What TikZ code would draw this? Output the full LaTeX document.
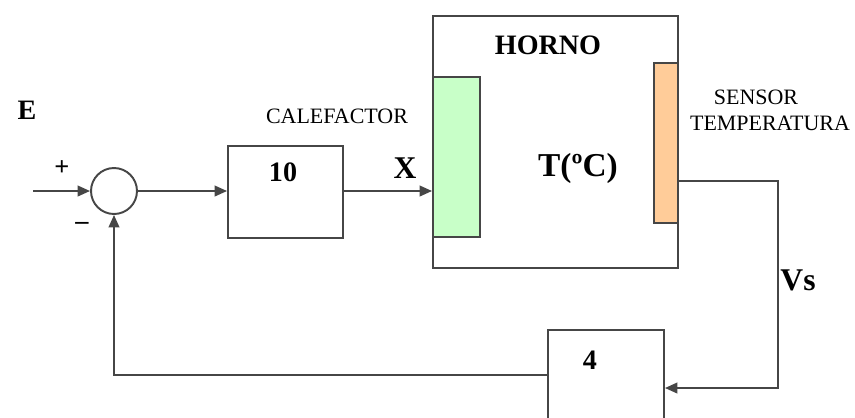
\documentclass[tikz,border=0pt]{standalone}
\usepackage{fontspec}
\setmainfont{Liberation Serif}
\usepackage{tikz}
\usetikzlibrary{arrows.meta, positioning, calc}
\definecolor{figline}{RGB}{70,70,70}
\definecolor{figgreen}{RGB}{200,255,200}
\definecolor{figorange}{RGB}{255,204,153}
\tikzset{
  blk/.style={draw=figline, fill=white, line width=1.1pt,
              minimum width=#1, inner sep=0pt},
  sumc/.style={circle, draw=figline, fill=white, line width=1.1pt,
               minimum size=0.92cm, inner sep=0pt},
  arr/.style={-{Triangle[length=7pt, width=6pt]}, draw=figline, line width=1.1pt},
  wire/.style={draw=figline, line width=1.1pt},
  lbl/.style={font=\fontsize{16}{18}\selectfont\bfseries},
  big/.style={font=\fontsize{19}{22}\selectfont\bfseries},
  small/.style={font=\fontsize{12.5}{15}\selectfont, inner sep=0pt},
}

\begin{document}
\begin{tikzpicture}[x=0.02cm, y=-0.02cm]

  \clip (0,0) rectangle (855,417);
  \useasboundingbox (0,0) rectangle (855,417);

  % ─── Summing junction and reference ───────────────────────────────
  \node[lbl] (eref) at (27,110) {E};
  \coordinate (ein) at (33,191);
  \node[sumc] (sum) at (114,191) {};
  \node[font=\fontsize{15}{15}\selectfont\bfseries] (plus) at (62,168) {+};
  \node[font=\fontsize{15}{15}\selectfont\bfseries] (minus) at (82,226) {--};
  \draw[arr] (ein) -- (sum.west);

  % ─── Heater gain ──────────────────────────────────────────────────
  \node[blk=2.3cm, minimum height=1.84cm] (k10) at (285.5,192) {};
  \node[lbl] (k10txt) at (283,172) {10};
  \node[small] (calef) at (337,116) {CALEFACTOR};
  \draw[arr] (sum.east) -- (k10.west |- sum.east);

  % ─── Oven ─────────────────────────────────────────────────────────
  \node[blk=4.9cm, minimum height=5.04cm] (horno) at (555.5,142) {};
  \node[lbl] (hornotxt) at (548,45) {HORNO};
  \node[draw=figline, fill=figgreen, line width=1.1pt, inner sep=0pt,
        minimum width=0.94cm, minimum height=3.2cm] (heat) at (456.5,157) {};
  \node[draw=figline, fill=figorange, line width=1.1pt, inner sep=0pt,
        minimum width=0.48cm, minimum height=3.2cm] (sens) at (666,143) {};
  \node[big] (temp) at (578,168) {T(ºC)};
  \node[small] (senstxt) at (756,97) {SENSOR};
  \node[small] (temptxt) at (770,123) {TEMPERATURA};
  \node[font=\fontsize{18}{20}\selectfont\bfseries] (xlbl) at (405,168) {X};
  \draw[arr] (k10.east |- sum.east) -- (heat.west |- sum.east);

  % ─── Sensor gain and feedback ─────────────────────────────────────
  \node[blk=2.32cm, minimum height=2.4cm] (k4) at (606,390) {};
  \node[lbl] (k4txt) at (590,360) {4};
  \node[font=\fontsize{18}{20}\selectfont\bfseries] (vs) at (798,280) {Vs};
  \coordinate (vtop) at (778,181);
  \coordinate (vbot) at (778,388);
  \coordinate (fb) at (114,375);
  \draw[arr] (sens.east |- vtop) -- (vtop) -- (vbot) -- (vbot -| k4.east);
  \draw[arr] (k4.west |- fb) -- (fb) -- (sum.south);

\end{tikzpicture}
\end{document}
